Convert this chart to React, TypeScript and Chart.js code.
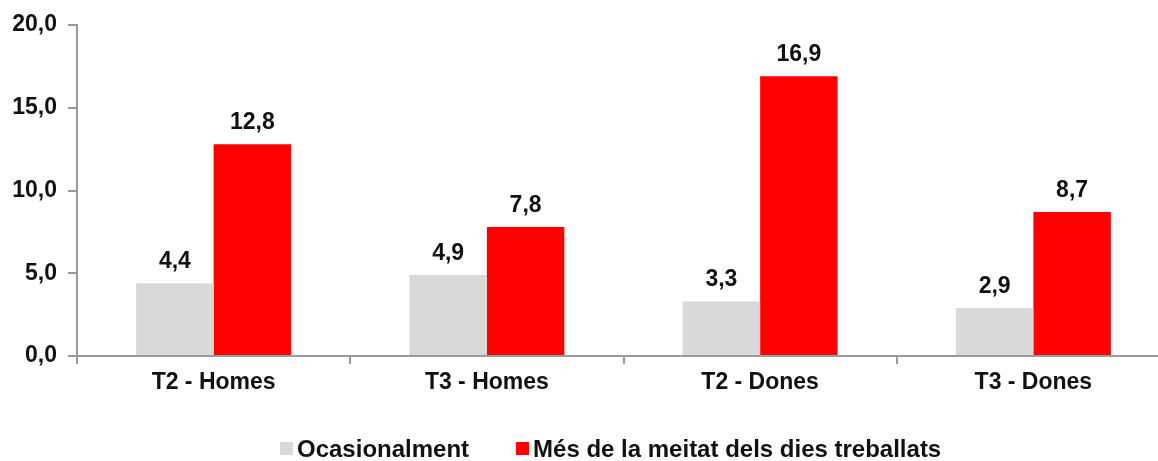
import React, { useEffect, useRef } from "react";
import { Chart, registerables } from "chart.js";

Chart.register(...registerables);

const categories = ["T2 - Homes", "T3 - Homes", "T2 - Dones", "T3 - Dones"];
const seriesNames = ["Ocasionalment", "Més de la meitat dels dies treballats"];
const ocasionalment = [4.4, 4.9, 3.3, 2.9];
const mesMeitat = [12.8, 7.8, 16.9, 8.7];
const yMin = 0;
const yMax = 20;
const yStep = 5;

const seriesColors = ["#d9d9d9", "#ff0000"];
const FONT = "'Liberation Sans', Arial, sans-serif";
const TEXT_COLOR = "#111111";
const AXIS_COLOR = "#9a9a9a";

const fmt = (v: number) => v.toFixed(1).replace(".", ",");

const dataLabelsPlugin = {
  id: "dataLabels",
  afterDatasetsDraw(chart: any) {
    const ctx = chart.ctx;
    ctx.save();
    ctx.font = `bold 23px ${FONT}`;
    ctx.fillStyle = TEXT_COLOR;
    ctx.textAlign = "center";
    ctx.textBaseline = "alphabetic";
    chart.data.datasets.forEach((ds: any, i: number) => {
      const meta = chart.getDatasetMeta(i);
      meta.data.forEach((el: any, j: number) => {
        ctx.fillText(fmt(ds.data[j]), el.x, el.y - 15);
      });
    });
    ctx.restore();
  },
};

const customLegendPlugin = {
  id: "customLegend",
  afterDraw(chart: any) {
    const ctx = chart.ctx;
    ctx.save();
    ctx.font = `bold 24px ${FONT}`;
    ctx.textAlign = "left";
    ctx.textBaseline = "middle";
    let x = 280;
    const boxTop = 442;
    const textY = 450;
    chart.data.datasets.forEach((ds: any) => {
      ctx.fillStyle = ds.backgroundColor;
      ctx.fillRect(x, boxTop, 13, 13);
      ctx.fillStyle = TEXT_COLOR;
      ctx.fillText(ds.label, x + 17, textY);
      x += 17 + ctx.measureText(ds.label).width + 47;
    });
    ctx.restore();
  },
};

export default function App() {
  const canvasRef = useRef<HTMLCanvasElement | null>(null);

  useEffect(() => {
    if (!canvasRef.current) return;
    const chart = new Chart(canvasRef.current, {
      type: "bar",
      data: {
        labels: categories,
        datasets: [
          {
            label: seriesNames[0],
            data: ocasionalment,
            backgroundColor: seriesColors[0],
            borderWidth: 0,
            categoryPercentage: 0.567,
            barPercentage: 1,
          },
          {
            label: seriesNames[1],
            data: mesMeitat,
            backgroundColor: seriesColors[1],
            borderWidth: 0,
            categoryPercentage: 0.567,
            barPercentage: 1,
          },
        ],
      },
      options: {
        animation: false,
        responsive: true,
        maintainAspectRatio: false,
        devicePixelRatio: 1,
        layout: { padding: { top: 25, bottom: 61, left: 0, right: 0 } },
        plugins: {
          legend: { display: false },
          tooltip: { enabled: false },
        },
        scales: {
          x: {
            grid: {
              offset: true,
              drawOnChartArea: false,
              drawTicks: true,
              tickLength: 8,
              color: AXIS_COLOR,
              lineWidth: 2,
            },
            border: { display: true, color: AXIS_COLOR, width: 2 },
            ticks: {
              color: TEXT_COLOR,
              font: { family: FONT, size: 23, weight: "bold" },
              padding: 5,
              maxRotation: 0,
              autoSkip: false,
            },
            afterFit: (scale: any) => {
              scale.height = 44;
            },
          },
          y: {
            min: yMin,
            max: yMax,
            grid: {
              drawOnChartArea: false,
              drawTicks: true,
              tickLength: 9,
              color: AXIS_COLOR,
              lineWidth: 2,
            },
            border: { display: true, color: AXIS_COLOR, width: 2 },
            ticks: {
              stepSize: yStep,
              color: TEXT_COLOR,
              font: { family: FONT, size: 23, weight: "bold" },
              padding: 11,
              callback: (v: any) => fmt(Number(v)),
            },
            afterFit: (scale: any) => {
              scale.width = 77;
            },
          },
        },
      },
      plugins: [dataLabelsPlugin, customLegendPlugin],
    });
    return () => chart.destroy();
  }, []);

  return (
    <div
      style={{
        position: "fixed",
        left: 0,
        top: 0,
        width: 1158,
        height: 461,
        overflow: "hidden",
        background: "#ffffff",
      }}
    >
      <div style={{ position: "relative", width: 1170, height: 461 }}>
        <canvas ref={canvasRef} />
      </div>
    </div>
  );
}
